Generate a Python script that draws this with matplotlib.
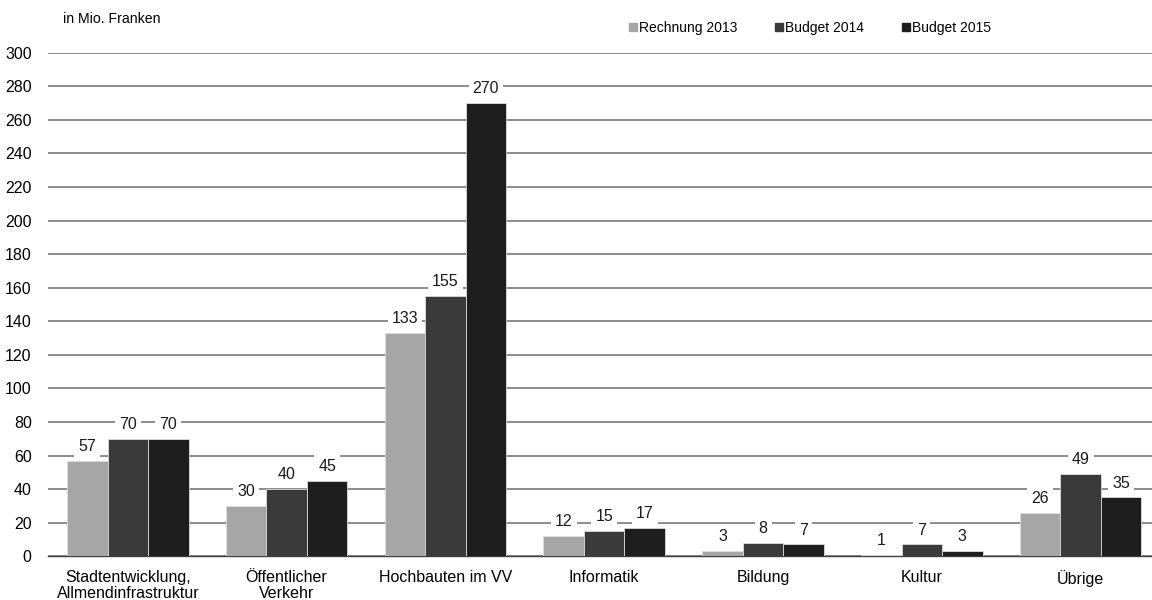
import numpy as np
import matplotlib.pyplot as plt
from matplotlib.lines import Line2D

plt.rcParams['font.family'] = ['Liberation Sans', 'DejaVu Sans']

kategorien = ['Stadtentwicklung,\nAllmendinfrastruktur', 'Öffentlicher\nVerkehr',
              'Hochbauten im VV', 'Informatik', 'Bildung', 'Kultur', 'Übrige']
rechnung_2013 = [57, 30, 133, 12, 3, 1, 26]
budget_2014 = [70, 40, 155, 15, 8, 7, 49]
budget_2015 = [70, 45, 270, 17, 7, 3, 35]
serien = ['Rechnung 2013', 'Budget 2014', 'Budget 2015']
farben = ['#a6a6a6', '#3a3a3a', '#1e1e1e']

fig = plt.figure(figsize=(11.52, 6), dpi=100)
ax = fig.add_axes([0.042, 0.073, 0.965, 0.839])

x = np.arange(len(kategorien))
w = 0.255
daten = [rechnung_2013, budget_2014, budget_2015]
for i, werte in enumerate(daten):
    pos = x + (i - 1) * w
    ax.bar(pos, werte, width=w, color=farben[i], edgecolor='#dcdcdc',
           linewidth=0.6, zorder=3)
    for p, v in zip(pos, werte):
        ax.annotate(str(v), (p, v), xytext=(0, 5), textcoords='offset points',
                    ha='center', va='bottom', fontsize=11.5, color='#1a1a1a',
                    bbox=dict(boxstyle='square,pad=0.25', fc='white', ec='none'),
                    zorder=4)

ax.set_xlim(-0.5, len(kategorien) - 0.5)
ax.set_ylim(0, 300)
ax.set_yticks(np.arange(0, 301, 20))
ax.yaxis.grid(True, color='#8c8c8c', linewidth=1.4, zorder=0)
ax.set_axisbelow(True)
for s in ['top', 'right', 'left']:
    ax.spines[s].set_visible(False)
ax.spines['bottom'].set_color('#404040')
ax.spines['bottom'].set_linewidth(1.0)
ax.spines['bottom'].set_zorder(2.5)
ax.set_xticks(x)
ax.set_xticklabels(kategorien, fontsize=11.5, linespacing=1.1)
ax.tick_params(axis='x', length=0, pad=10)
ax.tick_params(axis='y', length=0, pad=12, labelsize=11.5)

fig.text(0.055, 0.968, 'in Mio. Franken', fontsize=10.2, va='center', ha='left')

handles = [Line2D([], [], marker='s', linestyle='none', markersize=6,
                  markerfacecolor=c, markeredgecolor=c) for c in farben]
fig.legend(handles, serien, loc='center left', bbox_to_anchor=(0.535, 0.953),
           ncol=3, frameon=False, fontsize=10, handlelength=0.6,
           handletextpad=0.1, columnspacing=2.75)

fig.savefig('out.png', dpi=100)
